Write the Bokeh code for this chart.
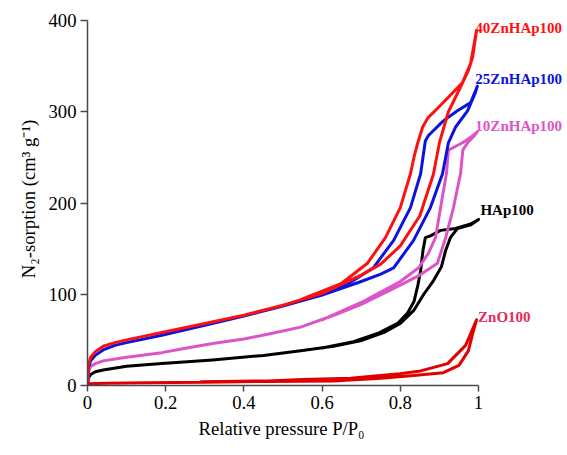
from bokeh.plotting import figure
from bokeh.models import Range1d, FixedTicker, Label, Title
from bokeh.embed import file_html
from bokeh.resources import INLINE

# ---------------- data ----------------
x_ticks = [0, 0.2, 0.4, 0.6, 0.8, 1.0]
x_tick_labels = ["0", "0.2", "0.4", "0.6", "0.8", "1"]
y_ticks = [0, 100, 200, 300, 400]
y_tick_labels = ["0", "100", "200", "300", "400"]

x_title = "Relative pressure P/P\u2080"
y_title = "N\u2082-sorption (cm\u00b3 g\u207b\u00b9)"

# 40ZnHAp100
zn40_ads_x = [0, 0.002, 0.008, 0.02, 0.04, 0.07, 0.1, 0.19, 0.3, 0.4, 0.5, 0.6, 0.7, 0.75, 0.8, 0.85, 0.885, 0.9, 0.923, 0.954, 0.974, 0.985, 0.995]
zn40_ads_y = [0, 22, 31, 37, 43, 47, 50, 58, 68, 77, 88, 101, 121, 133, 153, 186, 232, 266, 300, 327, 345, 360, 389]
zn40_des_x = [0.995, 0.98, 0.959, 0.928, 0.898, 0.87, 0.857, 0.844, 0.836, 0.826, 0.8, 0.762, 0.716, 0.65, 0.55]
zn40_des_y = [389, 353, 332, 318, 305, 293, 283, 265, 252, 232, 195, 162, 134, 112, 95]

# 25ZnHAp100
zn25_ads_x = [0, 0.002, 0.008, 0.02, 0.04, 0.07, 0.1, 0.19, 0.3, 0.4, 0.5, 0.6, 0.7, 0.75, 0.783, 0.834, 0.877, 0.908, 0.923, 0.941, 0.972, 0.992, 0.997]
zn25_ads_y = [0, 19, 27, 33, 39, 44, 47, 55, 66, 76, 87, 99, 114, 122, 129, 159, 195, 232, 266, 283, 301, 321, 328]
zn25_des_x = [0.997, 0.98, 0.946, 0.91, 0.872, 0.864, 0.852, 0.826, 0.783, 0.731, 0.68, 0.6]
zn25_des_y = [328, 310, 301, 290, 274, 268, 232, 195, 159, 129, 115, 100]

# 10ZnHAp100
zn10_ads_x = [0, 0.002, 0.008, 0.02, 0.04, 0.1, 0.19, 0.24, 0.32, 0.4, 0.47, 0.545, 0.63, 0.7, 0.8, 0.85, 0.895, 0.916, 0.936, 0.954, 0.96, 0.972, 0.99, 0.997]
zn10_ads_y = [0, 14, 21, 24, 27, 31, 36, 40, 46, 51, 57, 64, 77, 89, 110, 121, 134, 162, 195, 232, 258, 266, 274, 278]
zn10_des_x = [0.997, 0.98, 0.959, 0.923, 0.918, 0.903, 0.89, 0.872, 0.847, 0.8, 0.7, 0.6]
zn10_des_y = [278, 272, 266, 258, 232, 195, 162, 145, 129, 114, 91, 72]

# HAp100
hap_ads_x = [0, 0.002, 0.008, 0.02, 0.04, 0.1, 0.19, 0.32, 0.45, 0.545, 0.629, 0.698, 0.757, 0.8, 0.834, 0.86, 0.885, 0.905, 0.916, 0.928, 0.946, 0.98, 1.0]
hap_ads_y = [0, 8, 12, 15, 17, 21, 24, 28, 33, 38, 43, 49, 58, 68, 82, 100, 115, 130, 148, 162, 172, 176, 182]
hap_des_x = [1.0, 0.98, 0.941, 0.903, 0.877, 0.864, 0.858, 0.852, 0.845, 0.835, 0.818, 0.793, 0.742, 0.68, 0.6]
hap_des_y = [182, 177, 172, 170, 164, 162, 148, 126, 110, 92, 79, 68, 57, 48, 41]

# ZnO100
zno_ads_x = [0, 0.002, 0.05, 0.15, 0.3, 0.46, 0.63, 0.75, 0.834, 0.91, 0.95, 0.974, 0.987, 0.995]
zno_ads_y = [0, 2, 2.5, 3, 3.5, 4.5, 5, 8, 11, 14, 22, 38, 60, 72]
zno_des_x = [0.995, 0.98, 0.967, 0.921, 0.852, 0.8, 0.749, 0.673, 0.55, 0.46, 0.29]
zno_des_y = [72, 57, 44, 24, 16, 13, 11, 8, 6.5, 5, 4]

series_names = ["HAp100", "10ZnHAp100", "25ZnHAp100", "40ZnHAp100", "ZnO100"]
series_colors = ["#000000", "#dc55c6", "#0a14dc", "#ff1010", "#e00000"]
label_colors = ["#000000", "#dc55c6", "#0a14dc", "#ff1010", "#e6285c"]
label_x = [1.005, 0.992, 0.992, 0.992, 0.999]
label_y = [191.8, 284.9, 336.4, 392.3, 75.6]

series_data = [
    (hap_ads_x, hap_ads_y, hap_des_x, hap_des_y),
    (zn10_ads_x, zn10_ads_y, zn10_des_x, zn10_des_y),
    (zn25_ads_x, zn25_ads_y, zn25_des_x, zn25_des_y),
    (zn40_ads_x, zn40_ads_y, zn40_des_x, zn40_des_y),
    (zno_ads_x, zno_ads_y, zno_des_x, zno_des_y),
]

# ---------------- layout ----------------
W, H = 567, 453
frame_left_px, frame_bottom_px = 87, 385      # canvas position of (0, 0)
px_per_x, px_per_y = 391.0, 0.9125
frame_top_px = 12
frame_right_px = W

x_end = (frame_right_px - frame_left_px) / px_per_x
y_end = (frame_bottom_px - frame_top_px) / px_per_y

SERIF = "Liberation Serif"
FS = "18.67px"

p = figure(width=W, height=H, output_backend="svg", toolbar_location=None,
           x_range=Range1d(0, x_end), y_range=Range1d(0, y_end),
           min_border_left=frame_left_px,
           min_border_top=frame_top_px,
           min_border_bottom=H - frame_bottom_px,
           min_border_right=0,
           title=None)
p.outline_line_color = None
p.xgrid.visible = False
p.ygrid.visible = False
p.background_fill_color = "white"
p.border_fill_color = "white"

for ax, ticks, labels, tick_out, standoff in (
        (p.xaxis[0], x_ticks, x_tick_labels, 6, 4),
        (p.yaxis[0], y_ticks, y_tick_labels, 7, 4)):
    ax.ticker = FixedTicker(ticks=ticks)
    ax.major_label_overrides = {t: l for t, l in zip(ticks, labels)}
    ax.bounds = (ticks[0], ticks[-1])
    ax.axis_line_color = "#4a4a4a"
    ax.axis_line_width = 1.5
    ax.major_tick_line_color = "#4a4a4a"
    ax.major_tick_line_width = 1.5
    ax.major_tick_out = tick_out
    ax.major_tick_in = 0
    ax.minor_tick_line_color = None
    ax.major_label_text_font = SERIF
    ax.major_label_text_font_size = FS
    ax.major_label_text_color = "#000000"
    ax.major_label_standoff = standoff

# y axis title (centred on the frame, as in the reference)
p.yaxis[0].axis_label = y_title
p.yaxis[0].axis_label_text_font = SERIF
p.yaxis[0].axis_label_text_font_size = FS
p.yaxis[0].axis_label_text_font_style = "normal"
p.yaxis[0].axis_label_text_color = "#000000"
p.yaxis[0].axis_label_standoff = 7

# x axis title, centred under the 0..1 span
p.add_layout(Title(text=x_title, align="left", offset=111, text_font=SERIF,
                   text_font_size=FS, text_font_style="normal",
                   text_color="#000000", standoff=8), "below")

for (ax_, ay_, dx_, dy_), col in zip(series_data, series_colors):
    xs = list(ax_) + list(dx_)
    ys = list(ay_) + list(dy_)
    p.line(xs, ys, line_color=col, line_width=3, line_join="round", line_cap="round")

for name, col, lx, ly in zip(series_names, label_colors, label_x, label_y):
    p.add_layout(Label(x=lx, y=ly, text=name, text_color=col, text_font=SERIF,
                       text_font_size="15px", text_font_style="bold",
                       text_align="left", text_baseline="alphabetic"))

open("out.html", "w").write(file_html(p, INLINE))
